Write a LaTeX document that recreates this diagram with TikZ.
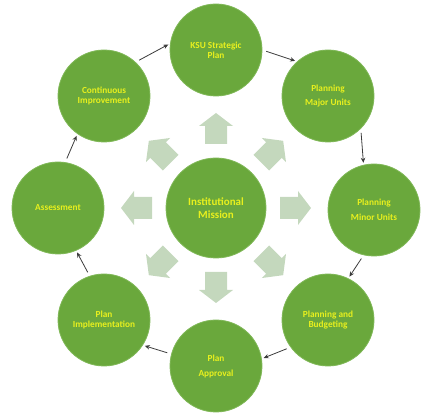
\documentclass[tikz,border=0pt]{standalone}
\usepackage{fontspec}
\setmainfont{Carlito}
\usetikzlibrary{arrows.meta}
\definecolor{cgreen}{RGB}{106,168,60}
\definecolor{cborder}{RGB}{128,184,88}
\definecolor{cyellow}{RGB}{232,240,30}
\definecolor{cpale}{RGB}{196,216,189}
\definecolor{cline}{RGB}{60,60,60}
\begin{document}
\begin{tikzpicture}[x=1pt,y=-1pt,
  outer/.style={circle, fill=cgreen, draw=cborder, line width=0.8pt,
    minimum size=92pt, inner sep=0pt, align=center, text=cyellow,
    font=\bfseries\fontsize{9.3}{10}\selectfont},
  hub/.style={outer, minimum size=100pt, font=\bfseries\fontsize{11}{12.5}\selectfont},
  flow/.style={draw=cline, line width=0.8pt, -{Stealth[length=5pt,width=4.5pt]},
    shorten <=4pt, shorten >=2pt}]
\useasboundingbox (0,0) rectangle (432,414);
% pale block arrows
\foreach \a in {0,45,...,315}{
  \fill[cpale, shift={(216,208)}, rotate=\a]
    (64,-11) -- (82,-11) -- (82,-17) -- (95,0) -- (82,17) -- (82,11) -- (64,11) -- cycle;
}
\node[hub] (c) at (216,208) {Institutional\\Mission};
\node[outer] (t)  at (216,50)  {KSU Strategic\\Plan};
\node[outer] (ur) at (328,96)  {Planning\\[4pt]Major Units};
\node[outer] (r)  at (374,210) {Planning\\[5pt]Minor Units};
\node[outer] (lr) at (328,320) {Planning and\\Budgeting};
\node[outer] (b)  at (216,366) {Plan\\[5pt]Approval};
\node[outer] (ll) at (104,320) {Plan\\Implementation};
\node[outer] (l)  at (58,208)  {Assessment};
\node[outer] (ul) at (104,96)  {Continuous\\Improvement};
\draw[flow] (ul.47) -- (t.172);
\draw[flow] (t.0) -- (ur.132);
\draw[flow] (ur.-45) -- (r.103);
\draw[flow] (r.-103) -- (lr.64);
\draw[flow] (lr.216) -- (b.9);
\draw[flow] (b.165) -- (ll.-33);
\draw[flow] (ll.108) -- (l.-67);
\draw[flow] (l.81) -- (ul.235);
\end{tikzpicture}
\end{document}
